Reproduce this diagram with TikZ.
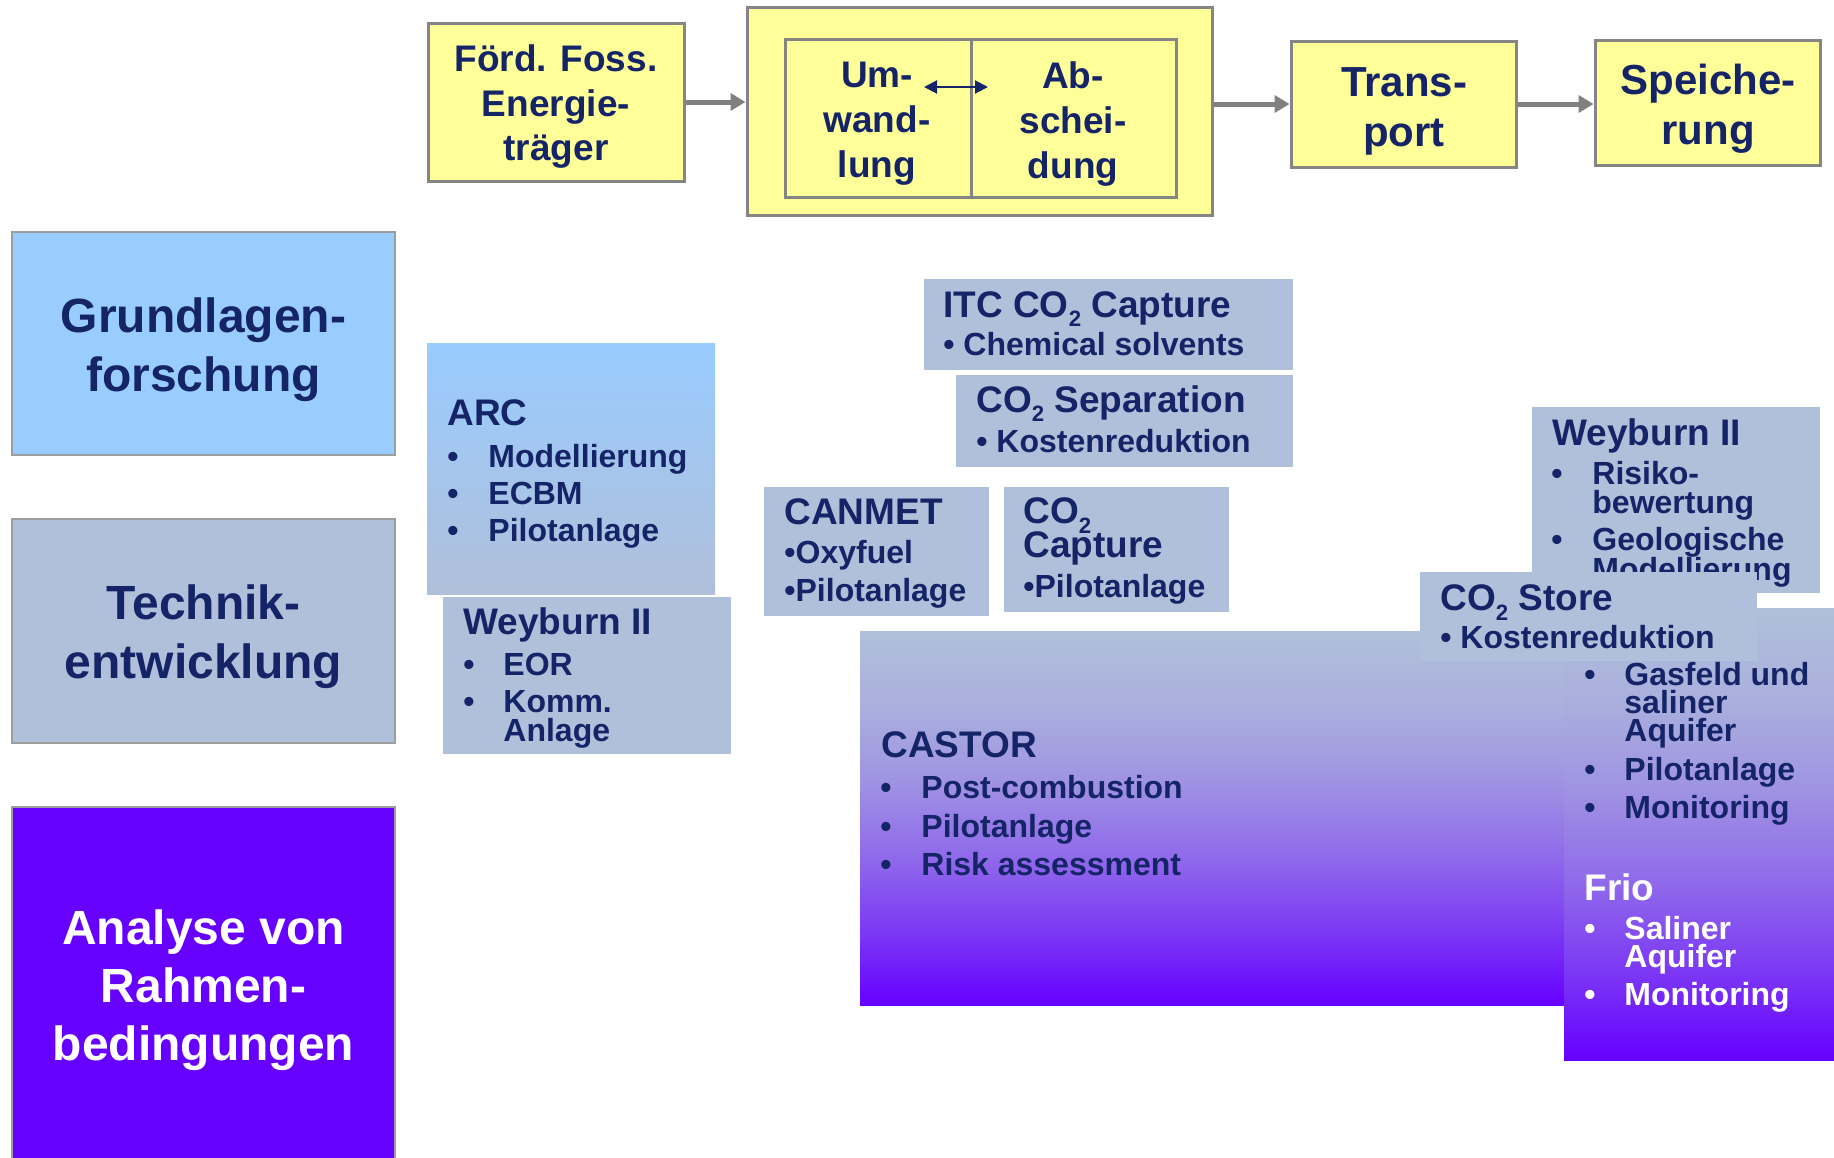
\documentclass[tikz,border=0pt]{standalone}
\usepackage{fontspec}
\usepackage{graphicx}
\setmainfont{Liberation Sans}
\usetikzlibrary{arrows.meta,fit}
\definecolor{navy}{HTML}{142466}
\definecolor{yel}{HTML}{FFFF99}
\definecolor{bordergray}{HTML}{858585}
\definecolor{arrowgray}{HTML}{808080}
\definecolor{lblue}{HTML}{99CCFF}
\definecolor{gblue}{HTML}{B0BFDA}
\definecolor{purp}{HTML}{6600FF}
\definecolor{gsA}{RGB}{170,176,221}
\definecolor{gsB}{RGB}{159,147,227}
\definecolor{gsC}{RGB}{144,107,234}
\definecolor{gsD}{RGB}{124,57,244}
\pgfdeclareverticalshading{gshade}{100bp}{color(0bp)=(purp); color(25bp)=(purp); color(35bp)=(gsD); color(45bp)=(gsC); color(55bp)=(gsB); color(65bp)=(gsA); color(75bp)=(gblue); color(100bp)=(gblue)}
\newcommand{\cotwo}{CO\raisebox{-0.27em}{\scalebox{0.6}{2}}}
\tikzset{
  ybox/.style={draw=bordergray, line width=1.5pt, fill=yel, inner sep=0pt},
  lbox/.style={draw=bordergray!80, line width=1pt, inner sep=0pt},
  pbox/.style={fill=gblue, draw=none, inner sep=0pt},
  gbox/.style={draw=none, inner sep=0pt, shading=gshade},
  ctext/.style={text=navy, align=center, inner sep=0pt},
  lefttext/.style={ctext, font={\bfseries\fontsize{24}{29.5}\selectfont}},
  ln/.style={anchor=base west, inner sep=0pt, text=navy},
  ttl/.style={ln, font={\bfseries\fontsize{18.5}{22}\selectfont}},
  itm/.style={ln, font={\bfseries\fontsize{16}{19}\selectfont}},
  garrow/.style={draw=arrowgray, line width=2.5pt, -{Triangle[length=7.5pt,width=8.5pt]}},
  darrow/.style={draw=navy, line width=1pt, {Triangle[length=6.5pt,width=6.5pt]}-{Triangle[length=6.5pt,width=6.5pt]}},
}
\begin{document}
\begin{tikzpicture}[x=0.5pt, y=-0.5pt]
\useasboundingbox (0,0) rectangle (1834,1157);
\fill[white] (0,0) rectangle (1834,1157);

% left column
\node[lbox, fill=lblue, fit={(12,232)(395,455)}] (grund) {};
\node[lefttext] (grundT) at (203.5,349.5) {Grundlagen-\\forschung};
\node[lbox, fill=gblue, fit={(12,519)(395,743)}] (technik) {};
\node[lefttext] (technikT) at (203.5,637) {Technik-\\entwicklung};
\node[lbox, fill=purp, fit={(12,807)(395,1175)}] (analyse) {};
\node[lefttext, text=white, font={\bfseries\fontsize{24}{29}\selectfont}] (analyseT) at (203.5,990) {Analyse von\\Rahmen-\\bedingungen};

% top row
\node[ybox, fit={(428,23)(684,181)}] (foerd) {};
\node[ctext, font={\bfseries\fontsize{18.5}{22.25}\selectfont}] (foerdT) at (556,107) {Förd. Foss.\\Energie-\\träger};
\node[ybox, fit={(747,7)(1212,215)}] (big) {};
\node[ybox, fit={(785,39)(971,197)}] (umw) {};
\node[ybox, fit={(971,39)(1176,197)}] (absch) {};
\node[ctext, font={\bfseries\fontsize{18.5}{22.5}\selectfont}] (umwT) at (877,124) {Um-\\wand-\\lung};
\node[ctext, font={\bfseries\fontsize{18.5}{22.5}\selectfont}] (abschT) at (1073,124) {Ab-\\schei-\\dung};
\coordinate (da1) at (924,87);
\coordinate (da2) at (988,87);
\draw[darrow] (da1) -- (da2);
\node[ybox, fit={(1291,41)(1516,167)}] (trans) {};
\node[ctext, font={\bfseries\fontsize{21}{25}\selectfont}] (transT) at (1404,111) {Trans-\\port};
\node[ybox, fit={(1595,40)(1820,165)}] (speicher) {};
\node[ctext, font={\bfseries\fontsize{21}{25}\selectfont}] (speicherT) at (1708,109) {Speiche-\\rung};
\draw[garrow] (foerd.east) -- (foerd.east -| big.west);
\draw[garrow] (big.east |- trans.west) -- (trans.west);
\draw[garrow] (trans.east) -- (trans.east -| speicher.west);

% ARC
\node[draw=none, inner sep=0pt, top color=lblue, bottom color=gblue, fit={(427,343)(715,594)}] (arc) {};
\node[ttl] (arcT) at (447,425) {ARC};
\node[itm] (arcB1) at (447,467) {•};
\node[itm] (arcI1) at (488,467) {Modellierung};
\node[itm] (arcB2) at (447,504) {•};
\node[itm] (arcI2) at (488,504) {ECBM};
\node[itm] (arcB3) at (447,541) {•};
\node[itm] (arcI3) at (488,541) {Pilotanlage};

% Weyburn II left
\node[pbox, fit={(443,597)(731,754)}] (weyl) {};
\node[ttl] (weylT) at (463,634) {Weyburn II};
\node[itm] (weylB1) at (463,675) {•};
\node[itm] (weylI1) at (503,675) {EOR};
\node[itm] (weylB2) at (463,712) {•};
\node[itm] (weylI2) at (503,712) {Komm.};
\node[itm] (weylI3) at (503,741) {Anlage};

% ITC
\node[pbox, fit={(924,279)(1293,370)}] (itc) {};
\node[ttl] (itcT) at (943,317) {ITC \cotwo{} Capture};
\node[itm] (itcI) at (943,355) {• Chemical solvents};

% CO2 Separation
\node[pbox, fit={(956,375)(1293,467)}] (sep) {};
\node[ttl] (sepT) at (976,412) {\cotwo{} Separation};
\node[itm] (sepI) at (976,452) {• Kostenreduktion};

% CANMET
\node[pbox, fit={(764,487)(989,616)}] (canmet) {};
\node[ttl] (canmetT) at (784,524) {CANMET};
\node[itm] (canmetI1) at (784,563) {•Oxyfuel};
\node[itm] (canmetI2) at (784,601) {•Pilotanlage};

% CO2 Capture small
\node[pbox, fit={(1004,487)(1229,612)}] (capt) {};
\node[ttl] (captT1) at (1023,523) {\cotwo};
\node[ttl] (captT2) at (1023,557) {Capture};
\node[itm] (captI) at (1023,597) {•Pilotanlage};

% CASTOR
\node[gbox, fit={(860,631)(1564,1005)}] (castor) {};
\node[ttl] (castorT) at (881,757) {CASTOR};
\node[itm] (castorB1) at (880,798) {•};
\node[itm] (castorI1) at (921,798) {Post-combustion};
\node[itm] (castorB2) at (880,837) {•};
\node[itm] (castorI2) at (921,837) {Pilotanlage};
\node[itm] (castorB3) at (880,875) {•};
\node[itm] (castorI3) at (921,875) {Risk assessment};

% Weyburn II right
\node[pbox, fit={(1532,407)(1820,593)}] (weyr) {};
\node[ttl] (weyrT) at (1552,445) {Weyburn II};
\node[itm] (weyrB1) at (1551,484) {•};
\node[itm] (weyrI1) at (1592,484) {Risiko-};
\node[itm] (weyrI1b) at (1592,513) {bewertung};
\node[itm] (weyrB2) at (1551,550) {•};
\node[itm] (weyrI2) at (1592,550) {Geologische};
\node[itm] (weyrI2b) at (1592,580) {Modellierung};

% Frio box
\node[gbox, fit={(1564,608)(1840,1060)}] (frio) {};

% CO2 Store
\node[pbox, fit={(1420,572)(1757,661)}] (store) {};
\node[ttl] (storeT) at (1440,610) {\cotwo{} Store};
\node[itm] (storeI) at (1440,648) {• Kostenreduktion};

% Frio box texts
\node[itm] (frB1) at (1584,685) {•};
\node[itm] (frI1) at (1624,685) {Gasfeld und};
\node[itm] (frI1b) at (1624,713) {saliner};
\node[itm] (frI1c) at (1624,741) {Aquifer};
\node[itm] (frB2) at (1584,780) {•};
\node[itm] (frI2) at (1624,780) {Pilotanlage};
\node[itm] (frB3) at (1584,818) {•};
\node[itm] (frI3) at (1624,818) {Monitoring};
\node[ttl, text=white] (frioT) at (1584,900) {Frio};
\node[itm, text=white] (frB4) at (1584,939) {•};
\node[itm, text=white] (frI4) at (1624,939) {Saliner};
\node[itm, text=white] (frI4b) at (1624,967) {Aquifer};
\node[itm, text=white] (frB5) at (1584,1005) {•};
\node[itm, text=white] (frI5) at (1624,1005) {Monitoring};
\end{tikzpicture}
\end{document}
